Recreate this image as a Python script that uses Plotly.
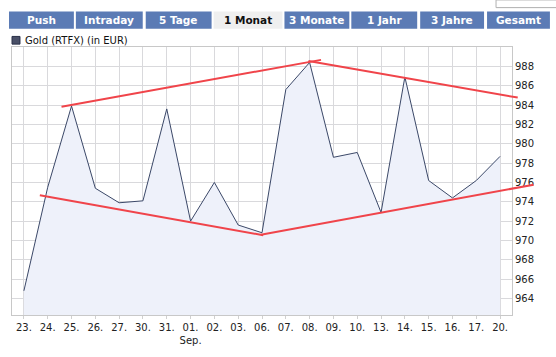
import plotly.graph_objects as go

# ---- data ----
dates = ["23.", "24.", "25.", "26.", "27.", "30.", "31.", "01.", "02.", "03.", "06.",
         "07.", "08.", "09.", "10.", "13.", "14.", "15.", "16.", "17.", "20."]
gold = [964.8, 975.5, 983.9, 975.4, 973.9, 974.1, 983.6, 972.0, 976.0, 971.6, 970.8,
        985.6, 988.4, 978.6, 979.1, 972.9, 986.9, 976.2, 974.4, 976.2, 978.7]
y_ticks = [964, 966, 968, 970, 972, 974, 976, 978, 980, 982, 984, 986, 988]
# trend lines drawn by user: (index, value) pairs
trend_upper_left = [(1.58, 983.83), (12.48, 988.67)]
trend_upper_right = [(11.95, 988.55), (20.74, 984.77)]
trend_lower_left = [(0.67, 974.67), (10.05, 970.55)]
trend_lower_right = [(9.95, 970.6), (21.41, 975.77)]
buttons = ["Push", "Intraday", "5 Tage", "1 Monat", "3 Monate", "1 Jahr", "3 Jahre", "Gesamt"]
active_button = "1 Monat"

W, H = 556, 357
ML, MR, MT, MB = 11, 44, 47, 31
PW, PH = W - ML - MR, H - MT - MB
YR = [962.3, 990.0]
XR = [-0.5, len(dates) - 0.5]

def px2paper_x(px):
    return (px - ML) / PW

def px2paper_y(py):
    return (H - MB - py) / PH

def data2paper(i, v):
    return (i - XR[0]) / (XR[1] - XR[0]), (v - YR[0]) / (YR[1] - YR[0])

ticktext = [d if d != "01." else "01.<br>Sep." for d in dates]

fig = go.Figure()
fig.add_trace(go.Scatter(
    x=list(range(len(dates))), y=gold, mode="lines",
    line=dict(color="#3b4868", width=1),
    fill="tozeroy", fillcolor="#eef1fa",
    showlegend=False, hoverinfo="skip"))

shapes = []
for seg in [trend_upper_left, trend_upper_right, trend_lower_left, trend_lower_right]:
    x0, y0 = data2paper(*seg[0])
    x1, y1 = data2paper(*seg[1])
    shapes.append(dict(type="line", xref="paper", yref="paper", x0=x0, y0=y0, x1=x1, y1=y1,
                       line=dict(color="#f0444a", width=2), layer="above"))

# buttons
btn_x = [(8, 73), (75, 142), (145, 211), (213, 282), (284, 349), (351, 417), (420, 484), (487, 550)]
annotations = []
for name, (a, b) in zip(buttons, btn_x):
    active = name == active_button
    shapes.append(dict(type="rect", xref="paper", yref="paper",
                       x0=px2paper_x(a), x1=px2paper_x(b), y0=px2paper_y(28), y1=px2paper_y(10),
                       fillcolor="#efefef" if active else "#5b7bb5", line=dict(width=0), layer="above"))
    annotations.append(dict(text="<b>%s</b>" % name, xref="paper", yref="paper",
                            x=px2paper_x((a + b) / 2), y=px2paper_y(19), showarrow=False,
                            xanchor="center", yanchor="middle",
                            font=dict(family="DejaVu Sans", size=10.5,
                                      color="#111" if active else "#ffffff")))
# top-right box outline
shapes.append(dict(type="rect", xref="paper", yref="paper",
                   x0=px2paper_x(496), x1=px2paper_x(560), y0=px2paper_y(6), y1=px2paper_y(-2),
                   fillcolor="rgba(0,0,0,0)", line=dict(color="#b0b0b0", width=1)))
# legend
shapes.append(dict(type="rect", xref="paper", yref="paper",
                   x0=px2paper_x(11), x1=px2paper_x(19), y0=px2paper_y(44), y1=px2paper_y(36),
                   fillcolor="#4a5068", line=dict(color="#2a3048", width=1)))
annotations.append(dict(text="Gold (RTFX) (in EUR)", xref="paper", yref="paper",
                        x=px2paper_x(22), y=px2paper_y(40), showarrow=False,
                        xanchor="left", yanchor="middle",
                        font=dict(family="DejaVu Sans", size=10, color="#111")))

fig.update_layout(
    width=W, height=H, margin=dict(l=ML, r=MR, t=MT, b=MB),
    paper_bgcolor="white", plot_bgcolor="white",
    shapes=shapes, annotations=annotations,
    xaxis=dict(range=XR, tickmode="array", tickvals=list(range(len(dates))), ticktext=ticktext,
               showgrid=True, gridcolor="#d9d9dc", gridwidth=1, zeroline=False,
               ticks="outside", ticklen=3, tickcolor="#d0d0d0",
               showline=True, linecolor="#c8c8c8", mirror=True,
               tickfont=dict(family="DejaVu Sans", size=10, color="#222")),
    yaxis=dict(range=YR, side="right", tickmode="array", tickvals=y_ticks,
               ticktext=[str(t) for t in y_ticks],
               showgrid=True, gridcolor="#d9d9dc", gridwidth=1, zeroline=False,
               ticks="", showline=True, linecolor="#c8c8c8", mirror=True,
               tickfont=dict(family="DejaVu Sans", size=10, color="#222")),
)

fig.write_html("out.html", config={"displayModeBar": False},
               post_script="document.body.style.margin='0';document.body.style.overflow='hidden';")
